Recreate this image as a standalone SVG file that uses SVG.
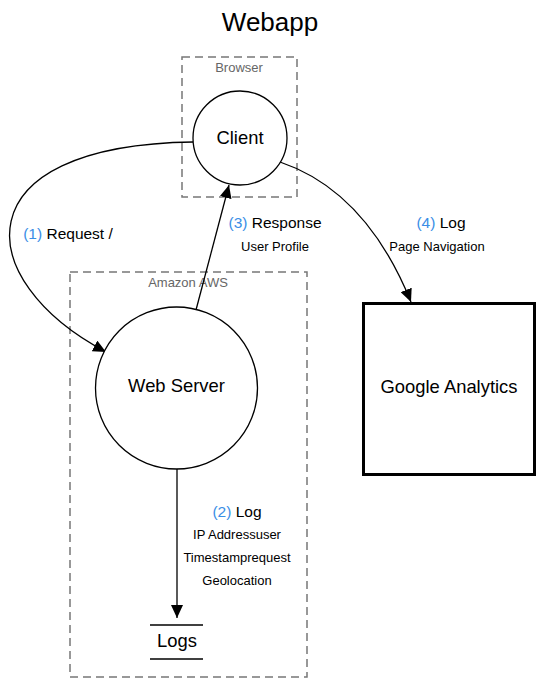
<svg xmlns="http://www.w3.org/2000/svg" width="540" height="693" viewBox="0 0 540 693">
<style>
text{font-family:"Liberation Sans",Arial,sans-serif;fill:#000}
.node{font-size:18.4px;text-anchor:middle}
.lbl{font-size:15.5px;text-anchor:middle}
.sub{font-size:13px;text-anchor:middle}
.num{fill:#3a8ee6}
.grp{fill:none;stroke:#777;stroke-width:1.5;stroke-dasharray:8,5}
.grplbl{font-size:13px;text-anchor:middle;fill:#666}
.shape{fill:#fff;stroke:#000;stroke-width:1.3}
.edge{fill:none;stroke:#000;stroke-width:1.3}
</style>
<defs>
<marker id="arr" markerUnits="userSpaceOnUse" markerWidth="14" markerHeight="12" refX="13" refY="6" orient="auto">
<path d="M0,0 L13,6 L0,12 Z" fill="#000"/>
</marker>
</defs>
<rect width="540" height="693" fill="#fff"/>
<text x="270" y="31" style="font-size:26px;text-anchor:middle">Webapp</text>

<g id="browser">
<rect class="grp" x="182" y="57" width="115" height="140"/>
<text class="grplbl" x="239" y="72">Browser</text>
</g>
<g id="amazon-aws">
<rect class="grp" x="70" y="272" width="237" height="405"/>
<text class="grplbl" x="188" y="287">Amazon AWS</text>
</g>

<g id="connectors">
<path class="edge" d="M193,142 C-40,145 -30,280 106,352" marker-end="url(#arr)"/>
<path class="edge" d="M177,469 L177,618" marker-end="url(#arr)"/>
<path class="edge" d="M196,310 L229,185" marker-end="url(#arr)"/>
<path class="edge" d="M280,162 Q366,191 411,302" marker-end="url(#arr)"/>
<text class="lbl" x="68" y="239"><tspan class="num">(1)</tspan> Request /</text>
<text class="lbl" x="237" y="516.5"><tspan class="num">(2)</tspan> Log</text>
<text class="sub" x="237" y="538.5">IP Addressuser</text>
<text class="sub" x="237" y="561.5">Timestamprequest</text>
<text class="sub" x="237" y="584.5">Geolocation</text>
<text class="lbl" x="275" y="228"><tspan class="num">(3)</tspan> Response</text>
<text class="sub" x="275" y="251">User Profile</text>
<text class="lbl" x="441" y="228"><tspan class="num">(4)</tspan> Log</text>
<text class="sub" x="437" y="251">Page Navigation</text>
</g>

<g id="client">
<circle class="shape" cx="240" cy="138" r="47"/>
<text class="node" x="240" y="144">Client</text>
</g>
<g id="web-server">
<circle class="shape" cx="176.5" cy="388" r="81"/>
<text class="node" x="176.5" y="391.5">Web Server</text>
</g>
<g id="google-analytics">
<rect x="363.5" y="303.5" width="171" height="171" fill="#fff" stroke="#000" stroke-width="3"/>
<text class="node" x="449" y="392.5">Google Analytics</text>
</g>
<g id="logs">
<line x1="150" y1="625" x2="203" y2="625" stroke="#000" stroke-width="1.3"/>
<line x1="150" y1="659" x2="203" y2="659" stroke="#000" stroke-width="1.3"/>
<text class="node" x="177" y="647">Logs</text>
</g>
</svg>
